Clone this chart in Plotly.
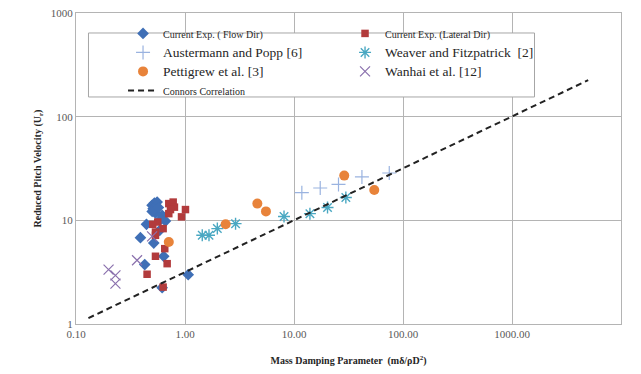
import plotly.graph_objects as go

# ---- data ----
flow_x = [0.499, 0.524, 0.555, 0.510, 0.536, 0.617, 0.662, 0.443, 0.390, 0.517, 0.587, 0.638, 0.427, 1.07, 0.617, 0.50, 0.57, 0.60]
flow_y = [13.95, 14.7, 15.0, 12.97, 11.76, 11.17, 9.84, 9.15, 6.81, 6.04, 8.01, 4.50, 3.74, 2.99, 2.24, 12.2, 13.3, 10.2]

lat_x = [0.710, 0.779, 0.800, 0.736, 0.710, 1.01, 0.929, 0.562, 0.506, 0.536, 0.630, 0.536, 0.652, 0.536, 0.686, 0.449, 0.630]
lat_y = [14.5, 15.0, 13.4, 12.7, 11.6, 12.7, 10.8, 9.63, 9.15, 7.71, 8.32, 7.17, 5.33, 4.50, 3.82, 3.02, 2.27]

aus_x = [11.8, 17.4, 25.6, 42.0, 74.8]
aus_y = [18.5, 20.5, 22.2, 26.2, 28.6]

pet_x = [0.710, 2.36, 4.61, 5.53, 28.9, 54.5]
pet_y = [6.18, 9.15, 14.5, 12.2, 27.0, 19.6]

wea_x = [1.44, 1.66, 1.98, 2.91, 8.10, 14.0, 20.3, 29.9]
wea_y = [7.17, 7.17, 8.32, 9.29, 10.9, 11.6, 13.3, 16.6]

wan_x = [0.499, 0.363, 0.199, 0.230, 0.230]
wan_y = [7.01, 4.12, 3.35, 2.95, 2.45]

con_x = [0.13, 5000]
con_y = [1.14, 225]

x_ticks = [0.1, 1, 10, 100, 1000, 10000]
x_ticklabels = ["0.10", "1.00", "10.00", "100.00", "1000.00", "10000.00"]
y_ticks = [1, 10, 100, 1000]
y_ticklabels = ["1", "10", "100", "1000"]

SERIF = "Liberation Serif, Times New Roman, serif"
GRID = "#b4b4b4"

def small(t):
    return '<span style="font-size:10px">' + t + '</span>'

def big(t):
    return '<span style="font-size:13.5px">' + t + '</span>'

fig = go.Figure()
fig.add_trace(go.Scatter(x=flow_x, y=flow_y, mode="markers", name=small("Current Exp. ( Flow Dir)"),
                         marker=dict(symbol="diamond", size=9, color="#3f6fb6")))
fig.add_trace(go.Scatter(x=lat_x, y=lat_y, mode="markers", name=small("Current Exp. (Lateral Dir)"),
                         marker=dict(symbol="square", size=7.5, color="#b23b3c")))
fig.add_trace(go.Scatter(x=aus_x, y=aus_y, mode="markers", name=big("Austermann and Popp [6]"),
                         marker=dict(symbol="cross-thin-open", size=10, color="#9ab3e0",
                                     line=dict(width=1.2, color="#9ab3e0"))))
fig.add_trace(go.Scatter(x=wea_x, y=wea_y, mode="markers", name=big("Weaver and Fitzpatrick  [2]"),
                         marker=dict(symbol="asterisk-open", size=10, color="#4aa8c2",
                                     line=dict(width=1.4, color="#4aa8c2"))))
fig.add_trace(go.Scatter(x=pet_x, y=pet_y, mode="markers", name=big("Pettigrew et al. [3]"),
                         marker=dict(symbol="circle", size=10, color="#e8833a")))
fig.add_trace(go.Scatter(x=wan_x, y=wan_y, mode="markers", name=big("Wanhai et al. [12]"),
                         marker=dict(symbol="x-thin-open", size=10, color="#8a70ad",
                                     line=dict(width=1.2, color="#8a70ad"))))
fig.add_trace(go.Scatter(x=con_x, y=con_y, mode="lines", name=small("Connors Correlation"),
                         line=dict(color="#222222", width=2, dash="6px,4px")))

fig.update_layout(
    width=641, height=374,
    margin=dict(l=76, r=20, t=13, b=50, autoexpand=False),
    paper_bgcolor="white", plot_bgcolor="white",
    font=dict(family=SERIF, size=11, color="#595959"),
    showlegend=True,
    legend=dict(orientation="h", x=0.0863, y=0.981, xanchor="left", yanchor="top",
                bgcolor="rgba(0,0,0,0)", borderwidth=0,
                entrywidth=177, entrywidthmode="pixels",
                font=dict(family=SERIF, size=11.5, color="#262626"),
                tracegroupgap=0),
    shapes=[dict(type="rect", xref="paper", yref="paper", x0=0.0229, x1=0.8413, y0=0.73, y1=0.9357,
                 fillcolor="white", line=dict(color="#a6a6a6", width=1), layer="above")],
)
fig.update_xaxes(type="log", range=[-1, 4], tickvals=x_ticks, ticktext=x_ticklabels,
                 showgrid=True, gridcolor=GRID, gridwidth=1,
                 showline=True, linecolor=GRID, mirror=True, ticks="",
                 tickfont=dict(family=SERIF, size=11, color="#595959"),
                 title=dict(text="<b>Mass Damping Parameter  (mδ/ρD<sup>2</sup>)</b>", standoff=17,
                            font=dict(family=SERIF, size=10, color="#262626")))
fig.update_yaxes(type="log", range=[0, 3], tickvals=y_ticks, ticktext=y_ticklabels,
                 showgrid=True, gridcolor=GRID, gridwidth=1,
                 showline=True, linecolor=GRID, mirror=True, ticks="",
                 tickfont=dict(family=SERIF, size=11, color="#595959"),
                 title=dict(text="<b>Reduced Pitch Velocity (U<sub>r</sub>)</b>", standoff=7,
                            font=dict(family=SERIF, size=10, color="#262626")))

fig.write_html("out.html")
